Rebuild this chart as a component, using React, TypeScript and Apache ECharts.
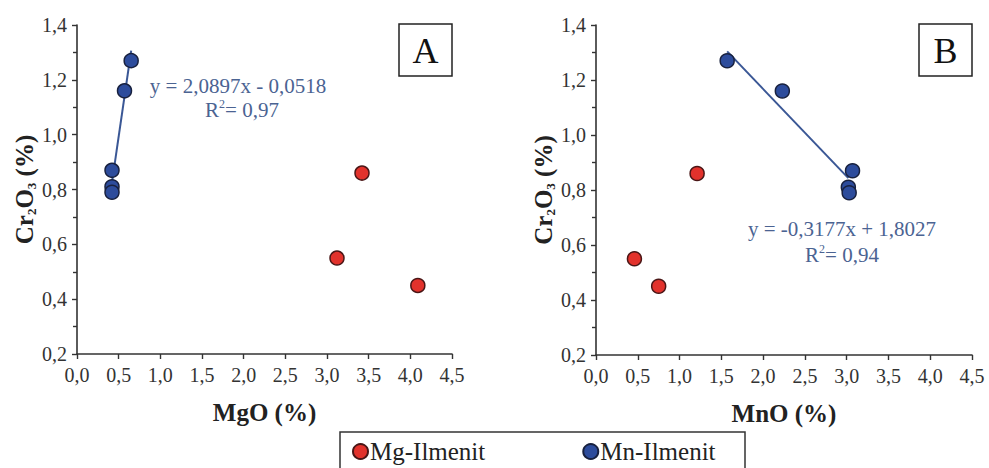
import React, { useEffect, useRef } from "react";
import * as echarts from "echarts";

// Sample values (Cr2O3 %, MgO %, MnO %)
const mgIlmCr2O3 = [0.86, 0.55, 0.45];
const mgIlmMgO = [3.42, 3.12, 4.09];
const mgIlmMnO = [1.21, 0.46, 0.75];

const mnIlmCr2O3 = [0.87, 0.81, 0.79, 1.16, 1.27];
const mnIlmMgO = [0.42, 0.42, 0.42, 0.57, 0.65];
const mnIlmMnO = [3.07, 3.02, 3.03, 2.23, 1.57];

// Trend lines (Mn-Ilmenit)
const trendA = { slope: 2.0897, intercept: -0.0518, xRange: [0.42, 0.65] };
const trendB = { slope: -0.3177, intercept: 1.8027, xRange: [1.57, 3.02] };

const xTicks = { min: 0, max: 4.5, interval: 0.5 };
const yTicks = { min: 0.2, max: 1.4, interval: 0.2 };

const FONT = "Liberation Serif";
const RED = "#e2322c";
const BLUE = "#2d4c9c";
const EQ_COLOR = "#4b6392";
const AXIS_COLOR = "#333333";

const fmt = (v: number) => v.toFixed(1).replace(".", ",");
const zip = (xs: number[], ys: number[]) => xs.map((x, i) => [x, ys[i]]);
const trendPts = (t: { slope: number; intercept: number; xRange: number[] }) =>
  t.xRange.map((x) => [x, t.slope * x + t.intercept]);

export default function App() {
  const ref = useRef<HTMLDivElement>(null);

  useEffect(() => {
    if (!ref.current) return;
    const chart = echarts.init(ref.current, undefined, { renderer: "svg" });

    const mkX = (gridIndex: number, name: string) => ({
      type: "value",
      gridIndex,
      min: xTicks.min,
      max: xTicks.max,
      interval: xTicks.interval,
      name,
      nameLocation: "middle",
      nameGap: 46,
      nameTextStyle: { fontFamily: FONT, fontSize: 25, fontWeight: "bold", color: "#222" },
      axisLine: { show: true, onZero: false, lineStyle: { color: AXIS_COLOR, width: 1.6 } },
      axisTick: { show: true, length: 5, lineStyle: { color: AXIS_COLOR, width: 1.4 } },
      axisLabel: { formatter: fmt, fontFamily: FONT, fontSize: 20, color: "#333", margin: 11 },
      splitLine: { show: false },
    });

    const mkY = (gridIndex: number) => ({
      type: "value",
      gridIndex,
      min: yTicks.min,
      max: yTicks.max,
      interval: yTicks.interval,
      name: "{b|Cr}{s|2}{b|O}{s|3}{b| (%)}",
      nameLocation: "middle",
      nameRotate: 90,
      nameGap: 31,
      nameTextStyle: {
        fontFamily: FONT,
        rich: {
          b: { fontFamily: FONT, fontSize: 25, fontWeight: "bold", color: "#222", lineHeight: 28 },
          s: { fontFamily: FONT, fontSize: 13, fontWeight: "bold", color: "#222", lineHeight: 25, verticalAlign: "bottom" },
        },
      },
      axisLine: { show: true, onZero: false, lineStyle: { color: AXIS_COLOR, width: 1.6 } },
      axisTick: { show: true, length: 5, lineStyle: { color: AXIS_COLOR, width: 1.4 } },
      minorTick: { show: true, splitNumber: 2, length: 4, lineStyle: { color: AXIS_COLOR, width: 1.4 } },
      axisLabel: { formatter: fmt, fontFamily: FONT, fontSize: 20, color: "#333", margin: 10 },
      splitLine: { show: false },
      minorSplitLine: { show: false },
    });

    const mkScatter = (name: string, xi: number, data: number[][], color: string, border: string) => ({
      name,
      type: "scatter",
      xAxisIndex: xi,
      yAxisIndex: xi,
      data,
      symbol: "circle",
      symbolSize: 14,
      z: 5,
      itemStyle: { color, borderColor: border, borderWidth: 1.5, opacity: 1 },
    });

    const mkTrend = (xi: number, data: number[][]) => ({
      name: "trend" + xi,
      type: "line",
      xAxisIndex: xi,
      yAxisIndex: xi,
      data,
      showSymbol: false,
      symbol: "none",
      z: 3,
      lineStyle: { color: "#3a5795", width: 2 },
    });

    const eqText = (x: number, y: number, text: string) => ({
      type: "text",
      x,
      y,
      style: {
        text,
        textAlign: "center",
        textVerticalAlign: "middle",
        fill: EQ_COLOR,
        fontFamily: FONT,
        fontSize: 21,
        rich: {
          n: { fontFamily: FONT, fontSize: 21, fill: EQ_COLOR, lineHeight: 24 },
          sup: { fontFamily: FONT, fontSize: 12, fill: EQ_COLOR, lineHeight: 24, verticalAlign: "top" },
        },
      },
    });

    const labelBox = (x: number, y: number, letter: string) => ({
      type: "group",
      children: [
        {
          type: "rect",
          shape: { x, y, width: 53, height: 52 },
          style: { fill: "#fff", stroke: "#222", lineWidth: 1.5 },
        },
        {
          type: "text",
          x: x + 26.5,
          y: y + 27,
          style: {
            text: letter,
            textAlign: "center",
            textVerticalAlign: "middle",
            fill: "#111",
            fontFamily: FONT,
            fontSize: 36,
          },
        },
      ],
    });

    chart.setOption({
      animation: false,
      backgroundColor: "#ffffff",
      textStyle: { fontFamily: FONT },
      grid: [
        { left: 77, top: 25, width: 375, height: 329 },
        { left: 596, top: 25, width: 376, height: 330 },
      ],
      xAxis: [mkX(0, "MgO (%)"), mkX(1, "MnO (%)")],
      yAxis: [mkY(0), mkY(1)],
      legend: {
        data: ["Mg-Ilmenit", "Mn-Ilmenit"],
        left: 347,
        top: 434,
        itemWidth: 15,
        itemHeight: 15,
        itemGap: 97,
        icon: "circle",
        textStyle: { fontFamily: FONT, fontSize: 25, color: "#222", lineHeight: 22, padding: [0, 0, 0, -3] },
        selectedMode: false,
      },
      series: [
        mkTrend(0, trendPts(trendA)),
        mkTrend(1, trendPts(trendB)),
        mkScatter("Mg-Ilmenit", 0, zip(mgIlmMgO, mgIlmCr2O3), RED, "#4a1616"),
        mkScatter("Mn-Ilmenit", 0, zip(mnIlmMgO, mnIlmCr2O3), BLUE, "#18213f"),
        mkScatter("Mg-Ilmenit", 1, zip(mgIlmMnO, mgIlmCr2O3), RED, "#4a1616"),
        mkScatter("Mn-Ilmenit", 1, zip(mnIlmMnO, mnIlmCr2O3), BLUE, "#18213f"),
      ],
      graphic: [
        labelBox(399, 24, "A"),
        labelBox(919, 24, "B"),
        eqText(238, 86, "{n|y = 2,0897x - 0,0518}"),
        eqText(242, 110, "{n|R}{sup|2}{n|= 0,97}"),
        eqText(842, 229, "{n|y = -0,3177x + 1,8027}"),
        eqText(842, 255, "{n|R}{sup|2}{n|= 0,94}"),
        {
          type: "rect",
          shape: { x: 340, y: 432, width: 405, height: 60 },
          style: { fill: "none", stroke: "#333", lineWidth: 1.5 },
          z: -1,
        },
      ],
    });

    return () => chart.dispose();
  }, []);

  return (
    <div
      ref={ref}
      style={{ position: "absolute", left: 0, top: 0, width: 989, height: 468, background: "#fff" }}
    />
  );
}
